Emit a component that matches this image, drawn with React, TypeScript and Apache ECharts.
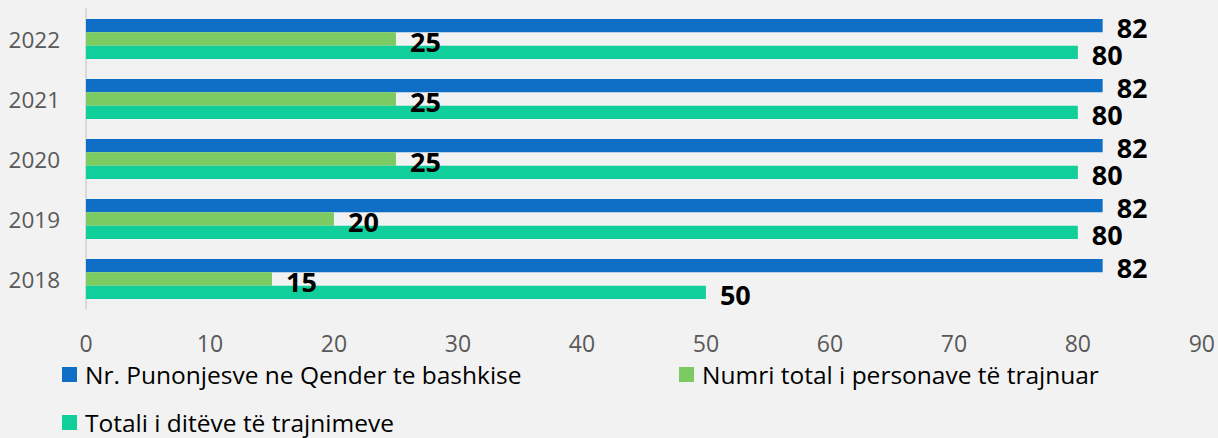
import React, { useEffect, useRef } from "react";
import * as echarts from "echarts";

const years = ["2018", "2019", "2020", "2021", "2022"];
const seriesNames = [
  "Nr. Punonjesve ne Qender te bashkise",
  "Numri total i personave të trajnuar",
  "Totali i ditëve të trajnimeve",
];
const punonjes = [82, 82, 82, 82, 82];
const personaTrajnuar = [15, 20, 25, 25, 25];
const diteTrajnimi = [50, 80, 80, 80, 80];
const xTicks = [0, 10, 20, 30, 40, 50, 60, 70, 80, 90];

const colors = ["#0F6FC6", "#7CCA62", "#10CF9B"];

export default function App() {
  const ref = useRef<HTMLDivElement>(null);
  useEffect(() => {
    if (!ref.current) return;
    const chart = echarts.init(ref.current, null, { renderer: "svg" });
    const font = "'Open Sans', 'Noto Sans', sans-serif";
    const label = {
      show: true,
      position: "right" as const,
      distance: 14,
      offset: [0, 2],
      color: "#000",
      fontWeight: "bold" as const,
      fontSize: 27,
      fontFamily: font,
    };
    const legendBase = {
      itemWidth: 15,
      itemHeight: 15,
      itemGap: 8,
      icon: "rect",
      padding: 0,
      textStyle: { fontSize: 24.5, color: "#000", fontFamily: font, padding: [0, 0, 0, 3] },
    };
    chart.setOption({
      animation: false,
      backgroundColor: "#F2F2F2",
      color: colors,
      grid: { left: 86, right: 16, top: 9, bottom: 129, containLabel: false },
      xAxis: {
        type: "value",
        min: xTicks[0],
        max: xTicks[xTicks.length - 1],
        interval: 10,
        axisLine: { show: false },
        axisTick: { show: false },
        splitLine: { show: false },
        axisLabel: { color: "#595959", fontSize: 23, margin: 22, fontFamily: font },
      },
      yAxis: {
        type: "category",
        data: years,
        axisLine: { show: true, lineStyle: { color: "#D9D9D9", width: 2 } },
        axisTick: { show: false },
        axisLabel: { color: "#595959", fontSize: 22.5, margin: 26, fontFamily: font },
      },
      legend: [
        { ...legendBase, data: [seriesNames[0]], left: 62, top: 362 },
        { ...legendBase, data: [seriesNames[1]], left: 679, top: 362 },
        { ...legendBase, data: [seriesNames[2]], left: 62, top: 410 },
      ],
      series: [
        { name: seriesNames[0], type: "bar", data: punonjes, barGap: "0%", barCategoryGap: "33%", label },
        { name: seriesNames[1], type: "bar", data: personaTrajnuar, barGap: "0%", barCategoryGap: "33%", label },
        { name: seriesNames[2], type: "bar", data: diteTrajnimi, barGap: "0%", barCategoryGap: "33%", label },
      ],
    });
    return () => chart.dispose();
  }, []);
  return <div ref={ref} style={{ width: 1218, height: 438, position: "absolute", left: 0, top: 0 }} />;
}
